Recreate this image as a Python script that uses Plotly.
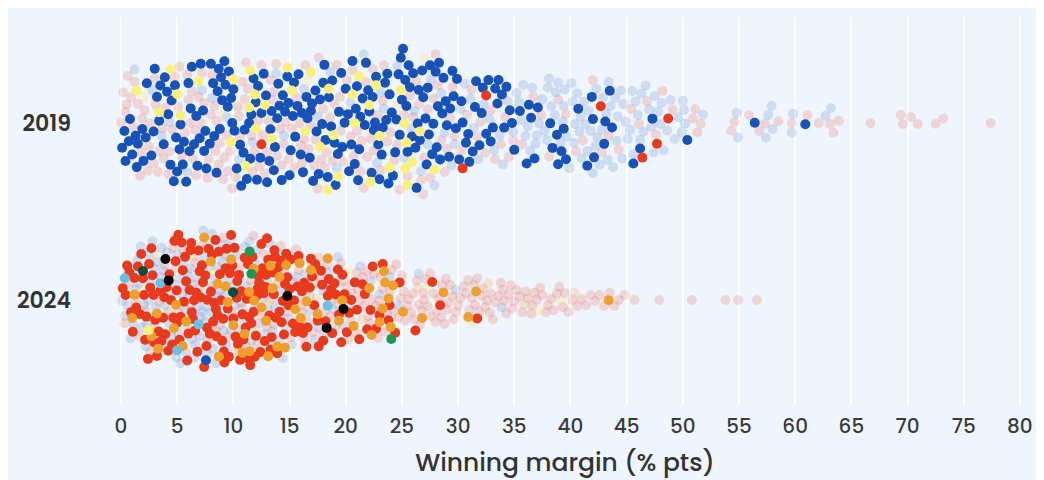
import math
import plotly.graph_objects as go

# winning margins (% pts), one list per colour group
# ---- 2019 ----
con19 = [0.1, 0.3, 0.4, 0.7, 0.8, 1.0, 1.3, 1.4, 1.5, 1.9, 2.0, 2.2, 2.3, 2.7, 2.9, 3.0, 3.2, 3.4, 3.5, 3.8,
         3.9, 4.1, 4.2, 4.4, 4.5, 4.7, 4.8, 4.9,
         5.0, 5.2, 5.3, 5.5, 5.6, 5.8, 6.1, 6.2, 6.3, 6.5, 6.7, 6.8, 7.0, 7.1, 7.4, 7.5, 7.6, 7.9, 8.0, 8.2,
         8.3, 8.5, 8.6, 8.8, 8.9, 9.0, 9.2, 9.3, 9.5, 9.6, 9.8, 9.9, 6.0, 7.3, 8.7,
         10.0, 10.1, 10.3, 10.6, 10.7, 10.9, 11.0, 11.2, 11.5, 11.6, 11.8, 12.0, 12.1, 12.4, 12.5, 12.7, 12.9,
         13.0, 13.2, 13.3, 13.6, 13.7, 13.9, 14.0, 14.1, 14.3, 14.4, 14.6, 14.8, 14.9, 11.4, 12.2, 13.4,
         15.0, 15.1, 15.3, 15.4, 15.7, 15.8, 16.0, 16.1, 16.2, 16.5, 16.6, 16.8, 17.0, 17.1, 17.3, 17.4, 17.6,
         17.7, 17.9, 18.0, 18.2, 18.4, 18.5, 18.7, 18.8, 19.0, 19.1, 19.3, 19.4, 19.6, 19.7, 19.9, 15.5, 16.9, 18.1,
         20.0, 20.2, 20.3, 20.5, 20.6, 20.8, 20.9, 21.1, 21.2, 21.3, 21.5, 21.7, 21.8, 22.0, 22.1, 22.3, 22.4,
         22.6, 22.7, 22.9, 23.0, 23.2, 23.3, 23.5, 23.6, 23.8, 23.9, 24.1, 24.2, 24.4, 24.5, 24.7, 24.8, 24.9,
         21.0, 22.5, 23.7,
         25.0, 25.1, 25.3, 25.4, 25.6, 25.7, 25.9, 26.0, 26.2, 26.3, 26.5, 26.6, 26.8, 26.9, 27.1, 27.2, 27.4,
         27.5, 27.7, 27.8, 28.0, 28.1, 28.3, 28.4, 28.6, 28.7, 28.9, 29.0, 29.2, 29.3, 29.5, 29.6, 29.8, 29.9,
         25.5, 26.4, 27.3, 28.2,
         30.1, 30.3, 30.4, 30.7, 30.9, 31.0, 31.3, 31.5, 31.6, 31.9, 32.1, 32.2, 32.5, 32.7, 32.9, 33.1, 33.3,
         33.5, 33.6, 33.9, 34.1, 34.3, 34.6, 34.8, 35.0,
         35.5, 36.1, 36.3, 36.5, 36.8, 37.1, 38.2, 38.4, 38.8, 38.9, 39.2, 39.4, 39.6,
         40.7, 41.5, 41.9, 42.0, 42.1, 43.0, 43.1, 43.5, 43.7,
         45.6, 46.2, 47.3, 50.4, 56.4, 60.9]
snp19 = [1.4, 3.4, 4.4, 5.0, 5.3, 6.9, 9.8, 10.0, 11.1, 11.4, 11.5, 11.9, 12.0, 12.8, 13.4, 14.8, 15.2, 16.4,
         16.9, 17.7, 18.4, 18.5, 18.9, 19.3, 20.6, 20.8, 21.2, 22.1, 22.2, 22.7, 23.0, 23.9, 24.9, 25.2, 25.3,
         25.4, 25.5, 25.9, 26.6, 27.9]
lab19 = [12.5, 30.4, 32.5, 42.7, 46.4, 47.7, 48.7]
lab19_faded = [0.0, 0.2, 0.4, 0.6, 0.9, 1.1, 1.2, 1.5, 1.7, 1.8, 2.1, 2.4, 2.5, 2.6, 2.9, 3.1, 3.3, 3.4, 3.7,
               3.8, 4.0, 4.2, 4.3, 4.6, 4.8, 0.5, 1.9, 3.0,
               5.1, 5.2, 5.4, 5.7, 5.9, 6.0, 6.2, 6.4, 6.6, 6.7, 6.9, 7.1, 7.2, 7.4, 7.7, 7.8, 8.0, 8.1, 8.4,
               8.5, 8.7, 8.8, 9.1, 9.2, 9.4, 9.5, 9.7, 9.9, 6.3, 8.3,
               10.2, 10.4, 10.5, 10.8, 11.0, 11.1, 11.3, 11.6, 11.7, 11.9, 12.2, 12.3, 12.6, 12.8, 13.0, 13.1,
               13.3, 13.5, 13.8, 13.9, 14.2, 14.3, 14.5, 14.7, 14.9, 10.6, 12.5, 13.6,
               15.2, 15.4, 15.6, 15.9, 16.1, 16.3, 16.4, 16.7, 16.9, 17.2, 17.3, 17.5, 17.8, 18.0, 18.1, 18.3,
               18.6, 18.8, 19.0, 19.2, 19.5, 19.6, 19.8, 16.0, 17.6,
               20.1, 20.4, 20.6, 20.7, 21.0, 21.3, 21.4, 21.6, 21.9, 22.2, 22.4, 22.5, 22.8, 23.1, 23.3, 23.4,
               23.7, 24.0, 24.3, 24.6, 24.8, 21.8,
               25.2, 25.5, 25.7, 26.0, 26.3, 26.5, 26.7, 27.0, 27.3, 27.5, 27.8, 28.0, 28.2, 28.5, 28.8, 29.0,
               29.3, 29.5, 29.7, 26.9,
               30.3, 30.8, 31.2, 31.7, 32.0, 32.4, 32.9, 33.3, 33.8, 34.2, 34.5, 34.9,
               35.7, 36.7, 37.4, 38.1, 38.9, 39.6, 40.5, 41.1, 42.0, 42.8, 43.4, 44.3,
               45.4, 46.1, 46.8, 47.6, 48.2, 49.1,
               50.9, 51.3, 51.6, 51.1, 54.3, 54.6, 55.9, 56.8, 57.3, 58.5, 59.7, 61.1, 62.1, 63.1, 63.4, 63.9,
               66.7, 69.4, 69.6, 70.3, 70.9, 72.5, 73.2, 77.4]
con19_faded = [1.2, 2.8, 3.6, 5.9, 8.1, 9.4, 10.5, 11.7, 13.8, 16.3, 17.5, 19.2, 20.4, 21.6, 22.8, 23.4, 24.6,
               25.2, 25.8, 26.7, 27.3, 27.9, 28.5, 28.8, 29.4, 29.7, 4.3, 7.2, 14.5, 18.6, 23.1, 26.1, 27.6,
               30.2, 30.6, 31.1, 31.4, 31.8, 32.3, 32.8, 33.2, 33.7, 34.0, 34.4, 34.9,
               35.2, 35.4, 35.8, 36.0, 36.2, 36.6, 36.9, 37.2, 37.5, 37.7, 38.0, 38.3, 38.6, 38.9, 39.1, 39.3,
               39.5, 39.7, 39.9, 37.9,
               35.6, 36.4, 37.0, 38.1, 38.7, 39.4,
               40.1, 40.3, 40.4, 40.6, 40.8, 41.0, 41.2, 41.3, 41.6, 41.8, 42.0, 42.3, 42.4, 42.6, 42.9, 43.2,
               43.3, 43.6, 43.8, 44.0, 44.2, 44.5, 44.7, 44.9,
               40.2, 40.9, 41.5, 42.2, 42.8, 43.4, 44.1, 44.6,
               45.1, 45.3, 45.5, 45.8, 46.0, 46.3, 46.5, 46.7, 47.0, 47.2, 47.5, 47.8, 48.0, 48.3, 48.6, 48.9,
               49.3, 49.6, 45.6, 46.2, 47.4, 48.1,
               49.9, 50.0, 50.1, 50.2, 51.8, 54.8, 54.9, 57.4, 57.6, 57.9, 58.0, 59.7, 59.8, 62.7, 63.2]
snp19_faded = [2.0, 8.9, 16.6, 24.5, 27.0]

# ---- 2024 ----
lab24 = [0.15, 0.4, 0.55, 0.75, 0.9,
         1.05, 1.2, 1.35, 1.5, 1.65, 1.8, 1.95,
         2.05, 2.15, 2.25, 2.4, 2.5, 2.6, 2.7, 2.8, 2.9, 2.95,
         3.05, 3.2, 3.35, 3.5, 3.6, 3.75, 3.85, 3.95, 4.05, 4.2, 4.3, 4.45, 4.55, 4.65, 4.75, 4.85, 4.95,
         6.25, 7.65, 8.45, 9.15, 10.35, 11.25, 12.15, 12.85, 13.65,
         5.0, 5.1, 5.2, 5.3, 5.4, 5.5, 5.6, 5.7, 5.8, 5.9, 6.0, 6.1, 6.2, 6.4, 6.5, 6.6, 6.7, 6.8, 7.0, 7.1,
         7.2, 7.3, 7.4, 7.6, 7.7, 7.8, 7.9, 8.0, 8.1, 8.2, 8.4, 8.5, 8.6, 8.7, 8.8, 8.9, 9.0, 9.1, 9.2, 9.3,
         9.5, 9.6, 9.7, 9.8, 9.9, 6.3, 6.9, 7.5, 8.3, 9.4,
         10.0, 10.1, 10.2, 10.3, 10.4, 10.5, 10.6, 10.7, 10.8, 11.0, 11.1, 11.2, 11.3, 11.4, 11.5, 11.7, 11.8,
         11.9, 12.0, 12.1, 12.2, 12.3, 12.4, 12.6, 12.7, 12.8, 12.9, 13.0, 13.1, 13.2, 13.3, 13.5, 13.6, 13.7,
         13.8, 13.9, 14.0, 14.1, 14.2, 14.3, 14.4, 14.5, 14.6, 14.7, 14.8, 14.9, 10.9, 11.6, 12.5, 13.4,
         15.0, 15.1, 15.3, 15.4, 15.5, 15.7, 15.8, 15.9, 16.1, 16.2, 16.3, 16.5, 16.6, 16.8, 16.9, 17.0, 17.2,
         17.3, 17.5, 17.6, 17.8, 17.9, 18.0, 18.2, 18.4, 18.5, 18.7, 18.8, 19.0, 19.1, 19.3, 19.4, 19.6, 19.7,
         19.9,
         20.1, 20.3, 20.5, 20.8, 21.0, 21.2, 21.5, 21.7, 21.9, 22.2, 22.4, 22.7, 23.0, 23.3, 23.8, 23.9, 24.4,
         24.8, 26.2, 27.7, 28.4, 31.7]
ld24 = [1.0, 1.2, 2.7, 3.2, 3.3, 4.7, 4.9, 5.5, 5.8, 7.4, 8.0, 8.6, 8.7, 9.3, 9.5, 9.8, 10.0, 10.8, 11.0, 11.4,
        11.45, 11.8, 11.85, 12.5, 12.9, 13.1, 13.3, 13.5, 13.9, 14.1, 14.6, 14.7, 15.5, 15.9, 16.0, 16.5, 16.9,
        17.5, 18.4, 19.4, 19.7, 20.7, 22.1, 22.3, 23.0, 23.3, 23.4, 23.5, 23.8, 24.0, 24.2, 25.1, 26.8, 28.7,
        30.9, 31.6, 43.4]
ind24 = [3.95, 4.24, 14.8, 18.3, 19.8]
pc24 = [1.96, 9.97]
grn24 = [11.45, 11.6, 24.05]
ref24 = [0.33, 3.5, 5.0, 6.9, 18.4]
con24 = [7.56]
snp24 = [2.46]
con24_faded = [0.1, 0.35, 0.6, 0.85,
               1.1, 1.3, 1.45, 1.6, 1.75, 1.9,
               2.05, 2.2, 2.3, 2.45, 2.55, 2.7, 2.8, 2.95,
               3.1, 3.3, 3.45, 3.6, 3.8, 3.95, 4.1, 4.25, 4.4, 4.55, 4.7, 4.9,
               5.1, 5.7, 6.6, 7.5, 8.4, 9.3, 10.0, 11.0, 12.0, 13.1,
               5.0, 5.2, 5.3, 5.5, 5.6, 5.8, 5.9, 6.1, 6.2, 6.4, 6.5, 6.7, 6.8, 7.0, 7.1, 7.3, 7.4, 7.6, 7.7,
               7.9, 8.0, 8.2, 8.3, 8.5, 8.6, 8.8, 8.9, 9.1, 9.2, 9.4, 9.5, 9.7, 9.8, 5.4, 6.3, 7.2, 8.1, 9.0,
               10.1, 10.3, 10.5, 10.7, 10.9, 11.2, 11.4, 11.6, 11.9, 12.1, 12.3, 12.6, 12.8, 13.0, 13.3, 13.5,
               13.7, 14.0, 14.2, 14.4, 14.7, 14.9,
               15.2, 15.6, 16.0, 16.4, 16.8, 17.2, 17.6, 18.0, 18.5, 18.9, 19.3, 19.8,
               20.4, 21.3, 22.2, 23.0, 23.9, 24.7, 26.5, 29.8, 33.9]
lab24_faded = [0.3, 0.7, 1.3, 1.6, 2.2, 2.6, 3.0, 3.4, 3.9, 4.2, 4.6, 4.9,
               5.1, 5.5, 5.9, 6.2, 6.6, 7.0, 7.3, 7.7, 8.1, 8.4, 8.8, 9.1, 9.5, 9.9,
               10.2, 10.5, 10.8, 11.1, 11.5, 11.8, 12.1, 12.4, 12.7, 13.0, 13.3, 13.6, 13.9, 14.2, 14.5, 14.8,
               15.1, 15.3, 15.6, 15.8, 16.1, 16.3, 16.6, 16.8, 17.1, 17.3, 17.6, 17.8, 18.1, 18.3, 18.6, 18.8,
               19.1, 19.3, 19.6, 19.8, 16.0, 18.0,
               20.0, 20.2, 20.4, 20.6, 20.9, 21.1, 21.3, 21.5, 21.7, 21.9, 22.1, 22.3, 22.5, 22.7, 22.9, 23.1,
               23.3, 23.5, 23.7, 23.9, 24.1, 24.3, 24.5, 24.7, 24.9, 21.0, 22.0, 23.0,
               25.0, 25.2, 25.3, 25.5, 25.6, 25.8, 26.0, 26.1, 26.3, 26.5, 26.6, 26.8, 27.0, 27.1, 27.3, 27.5,
               27.6, 27.8, 28.0, 28.1, 28.3, 28.5, 28.6, 28.8, 29.0, 29.1, 29.3, 29.5, 29.6, 29.8, 26.9, 28.9,
               30.0, 30.2, 30.5, 30.7, 30.9, 31.0, 31.2, 31.4, 31.5, 31.7, 31.9, 32.1, 32.2, 32.4, 32.6, 32.8,
               32.9, 33.1, 33.3, 33.6, 33.8, 34.0, 34.1, 34.3, 34.5, 34.7, 34.8, 35.0,
               35.2, 35.5, 35.7, 36.0, 36.2, 36.5, 36.8, 37.0, 37.3, 37.5, 37.8, 38.0, 38.3, 38.5, 38.8, 39.0,
               39.3, 39.5, 39.8, 36.6,
               40.2, 40.6, 41.0, 41.4, 41.8, 42.2, 42.6, 43.0, 43.5, 43.9, 44.3, 44.8,
               45.7, 47.9, 50.8, 53.8, 54.9, 56.6]
snp24_faded = [2.0, 3.1, 8.2, 13.1, 20.3, 27.2, 31.3, 37.1, 39.2]
ld24_faded = [6.5, 12.0, 17.4, 21.4, 26.4, 32.7, 35.9, 40.4]

years = ["2019", "2024"]

RED = "#ea3a1e"
BLUE = "#1652b8"
# (name, values, colour, opacity) per group, faded ones first so they sit underneath
groups19 = [
    ("lab19_faded", lab19_faded, RED, 0.17),
    ("con19_faded", con19_faded, BLUE, 0.15),
    ("snp19_faded", snp19_faded, "#f5e030", 0.2),
    ("con19", con19, BLUE, 1.0),
    ("snp19", snp19, "#fbf07a", 1.0),
    ("lab19", lab19, RED, 1.0),
]
groups24 = [
    ("con24_faded", con24_faded, BLUE, 0.15),
    ("lab24_faded", lab24_faded, RED, 0.17),
    ("snp24_faded", snp24_faded, "#f5e030", 0.2),
    ("ld24_faded", ld24_faded, "#efa02c", 0.2),
    ("lab24", lab24, RED, 1.0),
    ("ld24", ld24, "#efa02c", 1.0),
    ("ref24", ref24, "#6cc0e6", 1.0),
    ("grn24", grn24, "#1a9a55", 1.0),
    ("pc24", pc24, "#0c4a3c", 1.0),
    ("ind24", ind24, "#000000", 1.0),
    ("con24", con24, BLUE, 1.0),
    ("snp24", snp24, "#fbf07a", 1.0),
]

# layout in pixels (page body adds an 8px offset, so the figure is 8px smaller)
W, H = 1036, 472
ML, MR, MT, MB = 92, 14, 9, 75
XR = [-1.87, 80.9]
PW = W - ML - MR
PH = H - MT - MB
PX_PER = PW / (XR[1] - XR[0])
CENTERS = {"2019": 282, "2024": 105}   # px above plot bottom
DIAM = {"2019": 9.5, "2024": 7.5}      # collision spacing, 2024 packs tighter


def swarm(xs, diam, iters=80, grav=0.004, strength=0.8):
    """greedy beeswarm, then a few relaxation passes (pull to centre + collide in y)"""
    n = len(xs)
    xp = [v * PX_PER for v in xs]
    order = sorted(range(n), key=lambda i: (i * 2654435761) % 4294967296)
    ys = [0.0] * n
    placed = []
    d2 = diam * diam
    for i in order:
        x = xp[i]
        near = [(px, py) for px, py in placed if abs(px - x) < diam]
        cands = [0.0]
        for px, py in near:
            dy = math.sqrt(d2 - (px - x) ** 2)
            cands += [py + dy, py - dy]
        cands.sort(key=abs)
        for c in cands:
            if all((px - x) ** 2 + (py - c) ** 2 >= d2 - 1e-6 for px, py in near):
                ys[i] = c
                break
        placed.append((x, ys[i]))

    # neighbour pairs close enough in x to touch
    byx = sorted(range(n), key=lambda i: xp[i])
    pairs = []
    for a in range(n):
        i = byx[a]
        for b in range(a + 1, n):
            j = byx[b]
            dx = xp[j] - xp[i]
            if dx >= diam:
                break
            pairs.append((i, j, math.sqrt(d2 - dx * dx)))
    for _ in range(iters):
        for i, j, need in pairs:
            dy = ys[j] - ys[i]
            if abs(dy) < need:
                s = 1.0 if dy >= 0 else -1.0
                push = (need - abs(dy)) * strength * 0.5
                ys[j] += s * push
                ys[i] -= s * push
        ys = [y * (1 - grav) for y in ys]
    return ys


fig = go.Figure()
for yr, groups in zip(years, [groups19, groups24]):
    allx = [v for g in groups for v in g[1]]
    offs = swarm(allx, DIAM[yr])
    k = 0
    for name, vals, col, op in groups:
        yy = [CENTERS[yr] + o for o in offs[k:k + len(vals)]]
        k += len(vals)
        fig.add_trace(go.Scatter(
            x=vals, y=yy, mode="markers", name=name, showlegend=False,
            marker=dict(size=10, color=col, opacity=op, line=dict(width=0)),
            hoverinfo="x",
        ))

fig.update_layout(
    width=W, height=H,
    margin=dict(l=ML, r=MR, t=MT, b=MB),
    paper_bgcolor="#eff5fd", plot_bgcolor="#eff5fd",
    font=dict(family="Poppins, Inter, sans-serif", color="#333333"),
    xaxis=dict(
        range=XR, tickvals=list(range(0, 81, 5)), showgrid=True, gridcolor="white", gridwidth=2,
        zeroline=False, showline=False, ticks="", ticklabelstandoff=7, automargin=False,
        tickfont=dict(size=20, color="#3a3a3a", weight=500),
        title=dict(text="Winning margin (% pts)", font=dict(size=25, color="#333333", weight=500), standoff=17),
    ),
    yaxis=dict(
        range=[0, PH], tickvals=[CENTERS[y] for y in years], ticktext=years,
        showgrid=False, zeroline=False, showline=False, ticks="", ticklabelstandoff=28, automargin=False,
        tickfont=dict(size=22, color="#333333", weight=600),
    ),
)

fig.write_html("out.html")
